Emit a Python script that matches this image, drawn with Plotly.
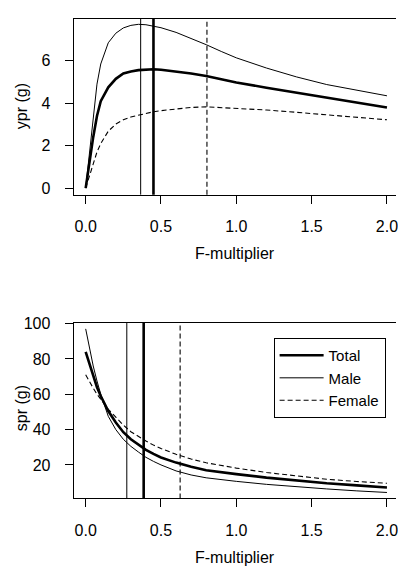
import plotly.graph_objects as go

# ---------------- data ----------------
F = [0, 0.025, 0.05, 0.075, 0.1, 0.15, 0.2, 0.25, 0.3, 0.35, 0.4, 0.45, 0.5,
     0.6, 0.7, 0.8, 0.9, 1.0, 1.2, 1.4, 1.6, 1.8, 2.0]

ypr_total = [0, 1.3, 2.4, 3.4, 4.1, 4.75, 5.15, 5.4, 5.5, 5.56, 5.59, 5.6, 5.58,
             5.5, 5.4, 5.28, 5.13, 4.98, 4.73, 4.49, 4.25, 4.02, 3.8]
ypr_male = [0, 1.6, 3.4, 4.9, 5.85, 6.85, 7.3, 7.55, 7.67, 7.72, 7.7, 7.64, 7.56,
            7.34, 7.06, 6.76, 6.44, 6.14, 5.66, 5.24, 4.88, 4.6, 4.35]
ypr_female = [0, 0.6, 1.2, 1.7, 2.1, 2.68, 3.02, 3.22, 3.35, 3.44, 3.52, 3.6, 3.65,
              3.74, 3.8, 3.83, 3.8, 3.75, 3.68, 3.57, 3.45, 3.33, 3.22]

spr_total = [84, 77, 70, 64, 59, 50.5, 44, 38.5, 34.5, 31.3, 28.5, 26.2, 24.2,
             21.3, 18.9, 17.0, 15.8, 14.8, 12.8, 11.0, 9.6, 8.4, 7.2]
spr_male = [97, 86, 76, 67.5, 60, 47.5, 40, 34.5, 30.5, 27.3, 24.3, 22, 20,
            16.6, 14.3, 12.7, 11.6, 10.7, 9.0, 7.6, 6.4, 5.3, 4.4]
spr_female = [71, 67, 63.5, 60, 57, 51.5, 47, 42.5, 38.8, 36, 33.5, 31.2, 29.3,
              26, 23.3, 21.2, 19.6, 18.2, 15.7, 13.6, 11.9, 10.6, 9.6]

# reference F values (vertical lines): total, male, female
ypr_fmax = [0.45, 0.365, 0.805]
spr_fref = [0.385, 0.273, 0.627]

series_names = ["Total", "Male", "Female"]
x_ticks = [0, 0.5, 1.0, 1.5, 2.0]
x_ticklabels = ["0.0", "0.5", "1.0", "1.5", "2.0"]
ypr_ticks = [0, 2, 4, 6]
spr_ticks = [20, 40, 60, 80, 100]

# ---------------- styling ----------------
W, H = 398, 566
FONT = "Liberation Sans, Arial, sans-serif"
FS = 16
styles = [dict(color="black", width=2.6),
          dict(color="black", width=1),
          dict(color="black", width=1.1, dash="5px,3px")]

fig = go.Figure()

top_sets = [ypr_total, ypr_male, ypr_female]
bot_sets = [spr_total, spr_male, spr_female]
for name, ys, st in zip(series_names, top_sets, styles):
    fig.add_trace(go.Scatter(x=F, y=ys, mode="lines", line=st, name=name,
                             showlegend=False, xaxis="x", yaxis="y"))
for name, ys, st in zip(series_names, bot_sets, styles):
    fig.add_trace(go.Scatter(x=F, y=ys, mode="lines", line=st, name=name,
                             showlegend=True, xaxis="x2", yaxis="y2"))

shapes = []
for v, st in zip(ypr_fmax, styles):
    shapes.append(dict(type="line", xref="x", yref="y domain", x0=v, x1=v,
                       y0=0, y1=1, line=st))
for v, st in zip(spr_fref, styles):
    shapes.append(dict(type="line", xref="x2", yref="y2 domain", x0=v, x1=v,
                       y0=0, y1=1, line=st))

xl = 74 / W
top_dom = [1 - 190 / H, 1 - 11 / H]
bot_dom = [1 - 499.3 / H, 1 - 320.7 / H]
xrange = [-0.08, 2.06]

common_x = dict(range=xrange, tickvals=x_ticks, ticktext=x_ticklabels,
                showline=True, linecolor="black", linewidth=1, mirror=True,
                ticks="outside", ticklen=8, tickcolor="black", tickwidth=1,
                showgrid=False, zeroline=False, domain=[xl, 1],
                ticklabelstandoff=9, ticklabeloverflow="allow",
                tickfont=dict(family=FONT, size=FS, color="black"))
common_y = dict(showline=True, linecolor="black", linewidth=1, mirror=False,
                ticks="outside", ticklen=8, tickcolor="black", tickwidth=1,
                showgrid=False, zeroline=False, ticklabelstandoff=11,
                tickfont=dict(family=FONT, size=FS, color="black"))

ann = [
    dict(text="ypr (g)", x=21 / W, y=1 - 100 / H, textangle=-90),
    dict(text="F-multiplier", x=236 / W, y=1 - 250 / H),
    dict(text="spr (g)", x=21 / W, y=1 - 407.5 / H, textangle=-90),
    dict(text="F-multiplier", x=236 / W, y=1 - 559 / H),
]
for a in ann:
    a.update(xref="paper", yref="paper", showarrow=False, xanchor="center",
             yanchor="middle", font=dict(family=FONT, size=FS, color="black"))

fig.update_layout(
    width=W, height=H,
    margin=dict(l=0, r=0, t=0, b=0),
    paper_bgcolor="white", plot_bgcolor="white",
    xaxis=dict(common_x, anchor="y"),
    yaxis=dict(common_y, range=[-0.31, 7.98], tickvals=ypr_ticks,
               domain=top_dom, anchor="x"),
    xaxis2=dict(common_x, anchor="y2"),
    yaxis2=dict(common_y, range=[1.0, 100.3], tickvals=spr_ticks,
                domain=bot_dom, anchor="x2"),
    shapes=shapes,
    annotations=ann,
    showlegend=True,
    legend=dict(x=275 / W, y=1 - 336 / H, xanchor="left", yanchor="top",
                bordercolor="black", borderwidth=1, bgcolor="white",
                font=dict(family=FONT, size=15, color="black"),
                itemwidth=44, tracegroupgap=0),
)

fig.write_html("out.html")
